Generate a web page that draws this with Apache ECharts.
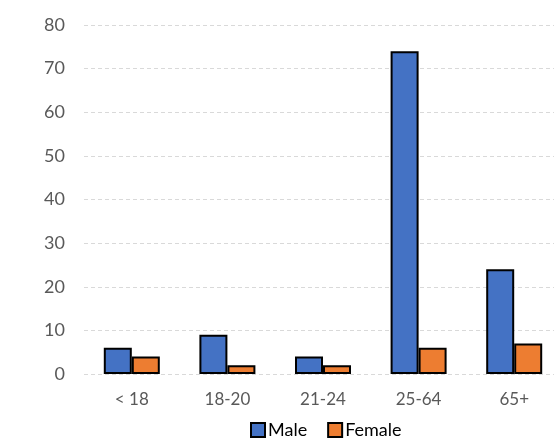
<!DOCTYPE html>
<html>
<head>
<meta charset="utf-8">
<script src="https://cdn.jsdelivr.net/npm/echarts@6/dist/echarts.min.js"></script>
<style>
  html, body { margin: 0; padding: 0; background: #fff; }
  #chart { width: 554px; height: 444px; }
</style>
</head>
<body>
<div id="chart"></div>
<script>
var categories = ['< 18', '18-20', '21-24', '25-64', '65+'];
var maleValues = [6, 9, 4, 74, 24];
var femaleValues = [4, 2, 2, 6, 7];

var myChart = echarts.init(document.getElementById('chart'));
var font = 'Lato, "Open Sans", sans-serif';

var option = {
  animation: false,
  grid: { left: 84, top: 25, width: 478, height: 349, outerBoundsMode: 'none' },
  legend: {
    data: ['Male', 'Female'],
    bottom: 0,
    left: 245,
    itemWidth: 14,
    itemHeight: 14,
    itemGap: 20,
    icon: 'rect',
    textStyle: { fontFamily: font, fontSize: 18, color: '#000', padding: [0, 0, 0, -2] }
  },
  xAxis: {
    type: 'category',
    data: categories,
    axisLine: { show: false },
    axisTick: { show: false },
    axisLabel: { fontFamily: font, fontSize: 17, color: '#595959', margin: 17 }
  },
  yAxis: {
    type: 'value',
    min: 0,
    max: 80,
    interval: 10,
    axisLine: { show: false },
    axisTick: { show: false },
    axisLabel: { fontFamily: font, fontSize: 18, color: '#595959', margin: 19 },
    splitLine: { lineStyle: { color: '#d9d9d9', type: [4, 3] } }
  },
  series: [
    {
      name: 'Male',
      type: 'bar',
      data: maleValues,
      barWidth: 28,
      barGap: '0%',
      itemStyle: { color: '#4472c4', borderColor: '#000', borderWidth: 2 }
    },
    {
      name: 'Female',
      type: 'bar',
      data: femaleValues,
      barWidth: 28,
      barGap: '0%',
      itemStyle: { color: '#ed7d31', borderColor: '#000', borderWidth: 2 }
    }
  ]
};
option && myChart.setOption(option);
</script>
</body>
</html>
